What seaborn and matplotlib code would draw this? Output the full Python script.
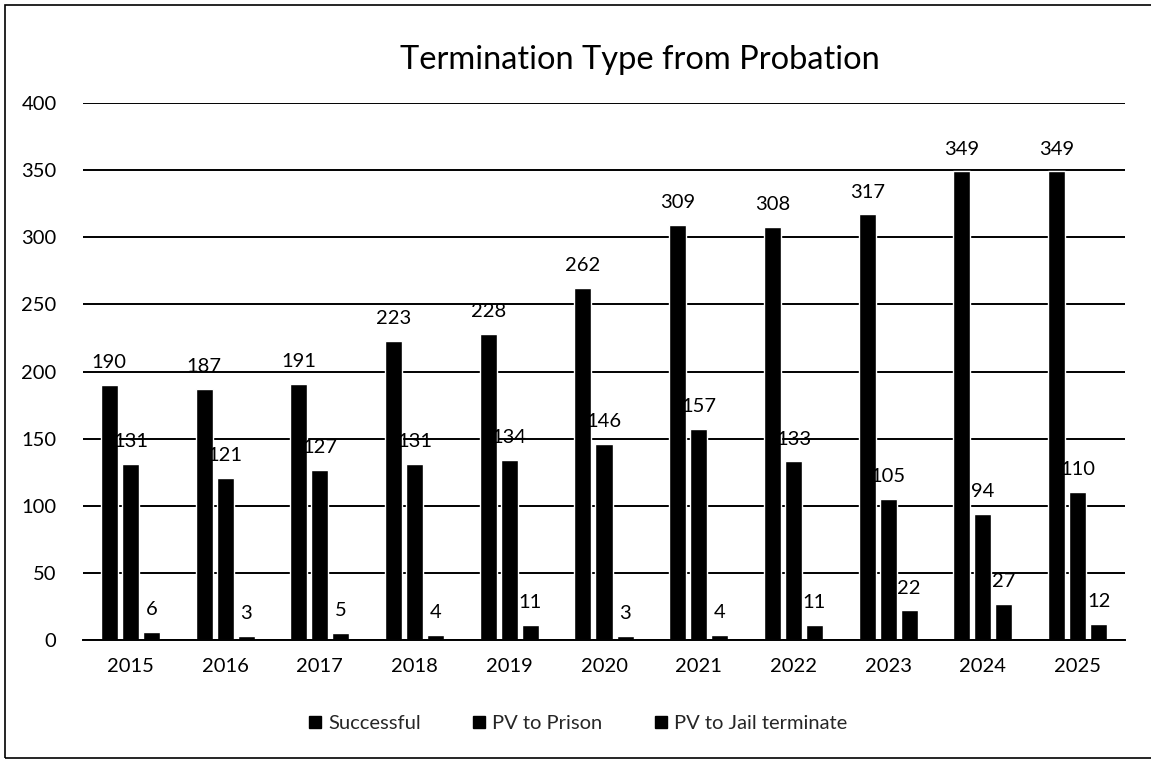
import pandas as pd
import matplotlib.pyplot as plt
import seaborn as sb
from matplotlib.lines import Line2D
from matplotlib.patches import Rectangle

years = ['2015', '2016', '2017', '2018', '2019', '2020',
         '2021', '2022', '2023', '2024', '2025']
successful = [190, 187, 191, 223, 228, 262, 309, 308, 317, 349, 349]
pv_prison = [131, 121, 127, 131, 134, 146, 157, 133, 105, 94, 110]
pv_jail = [6, 3, 5, 4, 11, 3, 4, 11, 22, 27, 12]
series = ['Successful', 'PV to Prison', 'PV to Jail terminate']

df = pd.DataFrame({
    'year': years * 3,
    'type': [s for s in series for _ in years],
    'count': successful + pv_prison + pv_jail,
})

sb.set_theme(style='white')
plt.rcParams['font.family'] = ['Lato', 'DejaVu Sans']

fig = plt.figure(figsize=(11.51, 7.65), dpi=100)
ax = fig.add_axes([83 / 1151, 1 - 640 / 765, 1042 / 1151, 537 / 765])

sb.barplot(data=df, x='year', y='count', hue='type', hue_order=series,
           palette=['black'] * 3, width=0.666, gap=0.19, ax=ax,
           legend=False, saturation=1)

for c in ax.containers:
    ax.bar_label(c, padding=10, fontsize=14.5, color='black')

ax.set_ylim(0, 400)
ax.set_yticks(range(0, 401, 50))
ax.set_xlim(-0.5, len(years) - 0.5)
ax.yaxis.grid(True, color='black', linewidth=1.4)
ax.set_axisbelow(True)
for s in ['top', 'right', 'left']:
    ax.spines[s].set_visible(False)
ax.spines['bottom'].set_color('black')
ax.spines['bottom'].set_linewidth(1.4)
ax.set_xlabel('')
ax.set_ylabel('')
ax.tick_params(axis='both', length=0, labelsize=14.5, colors='black')
ax.tick_params(axis='x', pad=13)
ax.tick_params(axis='y', pad=19)

fig.text(640 / 1151, 1 - 60 / 765, 'Termination Type from Probation',
         ha='center', va='center', fontsize=23.5, color='black')

handles = [Line2D([], [], marker='s', color='black', linestyle='',
                  markersize=9) for _ in series]
fig.legend(handles, series, loc='center', ncol=3,
           bbox_to_anchor=(578 / 1151, 1 - 723 / 765), frameon=False,
           fontsize=14.5, handlelength=0.6, handletextpad=0.35,
           columnspacing=2.6)

fig.patches.append(Rectangle((5 / 1151, 1 - 758 / 765), 1150 / 1151,
                             753 / 765, transform=fig.transFigure,
                             fill=False, edgecolor='black', linewidth=1.2))

fig.savefig('out.png', dpi=100)
